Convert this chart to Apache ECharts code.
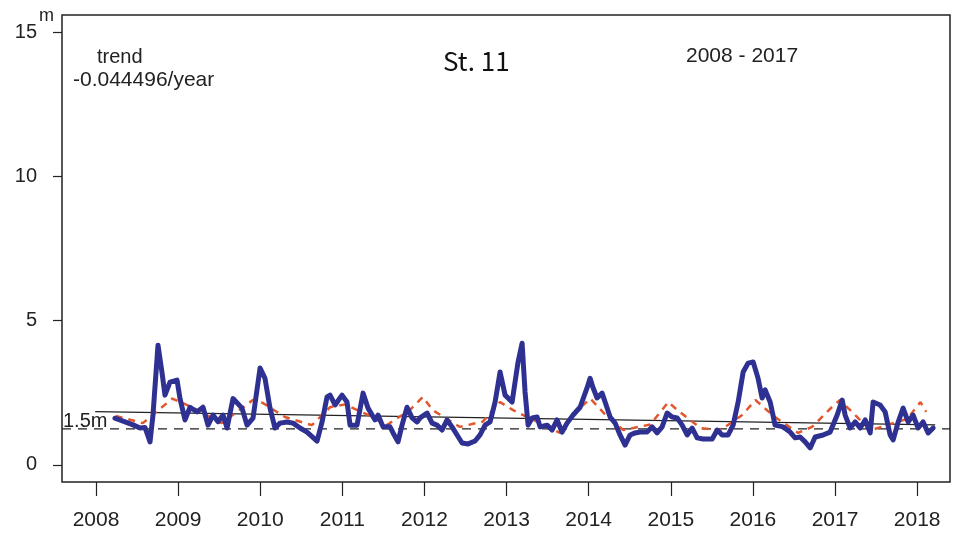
<!DOCTYPE html>
<html>
<head>
<meta charset="utf-8">
<script src="https://cdn.jsdelivr.net/npm/echarts@6/dist/echarts.min.js"></script>
<style>
  html, body { margin: 0; padding: 0; background: #fff; }
  #chart { width: 953px; height: 536px; }
</style>
</head>
<body>
<div id="chart"></div>
<script>
// monthly wave height at St. 11 (decimal year, metres)
var obsYear = [
  2008.231, 2008.329, 2008.451, 2008.536, 2008.597, 2008.658, 2008.694, 2008.755, 2008.804, 2008.840,
  2008.901, 2008.987, 2009.023, 2009.084, 2009.145, 2009.230, 2009.303, 2009.364, 2009.425, 2009.486,
  2009.547, 2009.596, 2009.669, 2009.778, 2009.839, 2009.912, 2009.998, 2010.058, 2010.119, 2010.180,
  2010.241, 2010.326, 2010.400, 2010.485, 2010.570, 2010.692, 2010.753, 2010.814, 2010.850, 2010.911,
  2010.996, 2011.057, 2011.094, 2011.179, 2011.252, 2011.313, 2011.398, 2011.435, 2011.496, 2011.581,
  2011.618, 2011.678, 2011.727, 2011.788, 2011.849, 2011.910, 2011.946, 2012.032, 2012.093, 2012.153,
  2012.214, 2012.275, 2012.336, 2012.397, 2012.458, 2012.531, 2012.616, 2012.677, 2012.738, 2012.799,
  2012.860, 2012.921, 2012.982, 2013.067, 2013.140, 2013.189, 2013.225, 2013.262, 2013.311, 2013.372,
  2013.408, 2013.493, 2013.554, 2013.615, 2013.676, 2013.737, 2013.810, 2013.895, 2013.980, 2014.017,
  2014.054, 2014.102, 2014.163, 2014.200, 2014.261, 2014.322, 2014.382, 2014.443, 2014.504, 2014.565,
  2014.626, 2014.711, 2014.772, 2014.833, 2014.894, 2014.955, 2015.016, 2015.077, 2015.138, 2015.199,
  2015.260, 2015.321, 2015.394, 2015.504, 2015.565, 2015.625, 2015.698, 2015.759, 2015.820, 2015.881,
  2015.942, 2016.003, 2016.063, 2016.112, 2016.149, 2016.210, 2016.270, 2016.368, 2016.453, 2016.514,
  2016.575, 2016.636, 2016.697, 2016.758, 2016.855, 2016.940, 2017.026, 2017.087, 2017.123, 2017.184,
  2017.245, 2017.306, 2017.367, 2017.428, 2017.464, 2017.549, 2017.610, 2017.671, 2017.708, 2017.769,
  2017.829, 2017.890, 2017.951, 2018.012, 2018.073, 2018.134, 2018.195
];
var obsHeight = [
  1.62, 1.52, 1.39, 1.28, 1.30, 0.80, 1.73, 4.15, 3.20, 2.42,
  2.87, 2.94, 2.30, 1.56, 2.00, 1.84, 2.00, 1.38, 1.73, 1.50,
  1.73, 1.28, 2.30, 1.97, 1.38, 1.62, 3.36, 3.00, 1.97, 1.28,
  1.45, 1.49, 1.45, 1.28, 1.14, 0.83, 1.49, 2.36, 2.42, 2.08,
  2.42, 2.18, 1.38, 1.38, 2.49, 1.97, 1.56, 1.73, 1.32, 1.32,
  1.11, 0.80, 1.38, 2.00, 1.63, 1.49, 1.63, 1.80, 1.45, 1.38,
  1.21, 1.56, 1.32, 1.04, 0.76, 0.73, 0.83, 1.04, 1.38, 1.49,
  2.18, 3.22, 2.42, 2.18, 3.57, 4.22, 2.53, 1.38, 1.63, 1.66,
  1.32, 1.38, 1.21, 1.56, 1.14, 1.45, 1.73, 2.00, 2.67, 3.00,
  2.67, 2.32, 2.49, 2.18, 1.66, 1.45, 1.04, 0.69, 1.04, 1.11,
  1.14, 1.14, 1.32, 1.11, 1.32, 1.80, 1.66, 1.63, 1.38, 1.04,
  1.28, 0.94, 0.90, 0.90, 1.21, 1.04, 1.04, 1.38, 2.18, 3.22,
  3.53, 3.57, 3.00, 2.32, 2.60, 2.18, 1.38, 1.32, 1.14, 0.94,
  0.97, 0.80, 0.59, 0.97, 1.04, 1.14, 1.73, 2.25, 1.73, 1.28,
  1.49, 1.28, 1.56, 1.11, 2.18, 2.08, 1.84, 1.04, 0.87, 1.49,
  1.97, 1.49, 1.73, 1.28, 1.49, 1.11, 1.28
];
// seasonal fit (red dashed)
var fitYear = [
  2008.24, 2008.57, 2008.76, 2008.93, 2009.17, 2009.53, 2009.91, 2010.03, 2010.30, 2010.63,
  2010.85, 2011.03, 2011.30, 2011.54, 2011.82, 2011.98, 2012.10, 2012.43, 2012.71, 2012.92,
  2013.08, 2013.37, 2013.65, 2013.77, 2014.02, 2014.20, 2014.42, 2014.75, 2014.97, 2015.08,
  2015.36, 2015.60, 2015.87, 2016.03, 2016.25, 2016.55, 2016.72, 2016.96, 2017.06, 2017.43,
  2017.88, 2018.04, 2018.11
];
var fitHeight = [
  1.70, 1.45, 1.90, 2.30, 2.00, 1.45, 2.25, 2.15, 1.66, 1.38,
  2.00, 2.10, 1.75, 1.38, 1.90, 2.36, 1.90, 1.32, 1.50, 2.18,
  1.90, 1.50, 1.11, 1.66, 2.30, 1.75, 1.21, 1.40, 2.18, 1.90,
  1.28, 1.20, 1.73, 2.25, 1.70, 1.11, 1.32, 2.00, 2.25, 1.20,
  1.60, 2.18, 1.84
];
// linear trend and reference level
var trendYear = [2007.99, 2018.22];
var trendHeight = [1.85, 1.39];
var refYear = [2007.586, 2018.40];
var refHeight = [1.25, 1.25];

var yearTicks = [2008, 2009, 2010, 2011, 2012, 2013, 2014, 2015, 2016, 2017, 2018];
var heightTicks = [0, 5, 10, 15];

function pairs(xs, ys) {
  var out = [];
  for (var i = 0; i < xs.length; i++) {
    out.push([xs[i], ys[i]]);
  }
  return out;
}

var myChart = echarts.init(document.getElementById('chart'));
myChart.setOption({
  animation: false,
  backgroundColor: '#fff',
  grid: {
    left: 62, right: 3, top: 15, bottom: 54,
    show: true,
    borderColor: '#222',
    borderWidth: 1.5
  },
  xAxis: {
    type: 'value',
    min: 2007.586,
    max: 2018.40,
    splitLine: { show: false },
    axisLine: { show: false, onZero: false },
    axisTick: {
      show: true,
      customValues: yearTicks,
      length: 14,
      lineStyle: { color: '#222', width: 1.2 }
    },
    axisLabel: {
      customValues: yearTicks,
      margin: 28,
      fontSize: 21,
      fontFamily: 'Liberation Sans',
      color: '#222',
      formatter: function (v) { return String(v); }
    }
  },
  yAxis: {
    type: 'value',
    min: -0.59,
    max: 15.59,
    splitLine: { show: false },
    axisLine: { show: false, onZero: false },
    axisTick: {
      show: true,
      customValues: heightTicks,
      length: 9,
      lineStyle: { color: '#222', width: 1.2 }
    },
    axisLabel: {
      customValues: heightTicks,
      margin: 25,
      fontSize: 20,
      fontFamily: 'Liberation Sans',
      color: '#222'
    }
  },
  series: [
    {
      name: 'ref',
      type: 'line',
      showSymbol: false,
      data: pairs(refYear, refHeight),
      lineStyle: { color: '#222', width: 1.2, type: [9, 7] },
      z: 1
    },
    {
      name: 'trend',
      type: 'line',
      showSymbol: false,
      data: pairs(trendYear, trendHeight),
      lineStyle: { color: '#222', width: 1.2 },
      z: 1
    },
    {
      name: 'fit',
      type: 'line',
      showSymbol: false,
      data: pairs(fitYear, fitHeight),
      lineStyle: { color: '#e2572b', width: 2.5, type: [7, 6] },
      z: 2
    },
    {
      name: 'obs',
      type: 'line',
      showSymbol: false,
      data: pairs(obsYear, obsHeight),
      lineStyle: { color: '#2e3192', width: 5, join: 'round', cap: 'round' },
      z: 3
    }
  ],
  graphic: [
    { type: 'text', x: 39, y: 16, style: { text: 'm', font: '18px "Liberation Sans"', fill: '#222', textVerticalAlign: 'middle' } },
    { type: 'text', x: 97, y: 57, style: { text: 'trend', font: '20px "Liberation Sans"', fill: '#222', textVerticalAlign: 'middle' } },
    { type: 'text', x: 73, y: 80, style: { text: '-0.044496/year', font: '21px "Liberation Sans"', fill: '#222', textVerticalAlign: 'middle' } },
    { type: 'text', x: 443, y: 61, style: { text: 'St. 11', font: '26px "Noto Sans CJK KR"', fill: '#111', textVerticalAlign: 'middle' } },
    { type: 'text', x: 686, y: 56, style: { text: '2008 - 2017', font: '21px "Liberation Sans"', fill: '#222', textVerticalAlign: 'middle' } },
    { type: 'text', x: 63, y: 421, style: { text: '1.5m', font: '20px "Liberation Sans"', fill: '#222', textVerticalAlign: 'middle' } }
  ]
});
</script>
</body>
</html>
